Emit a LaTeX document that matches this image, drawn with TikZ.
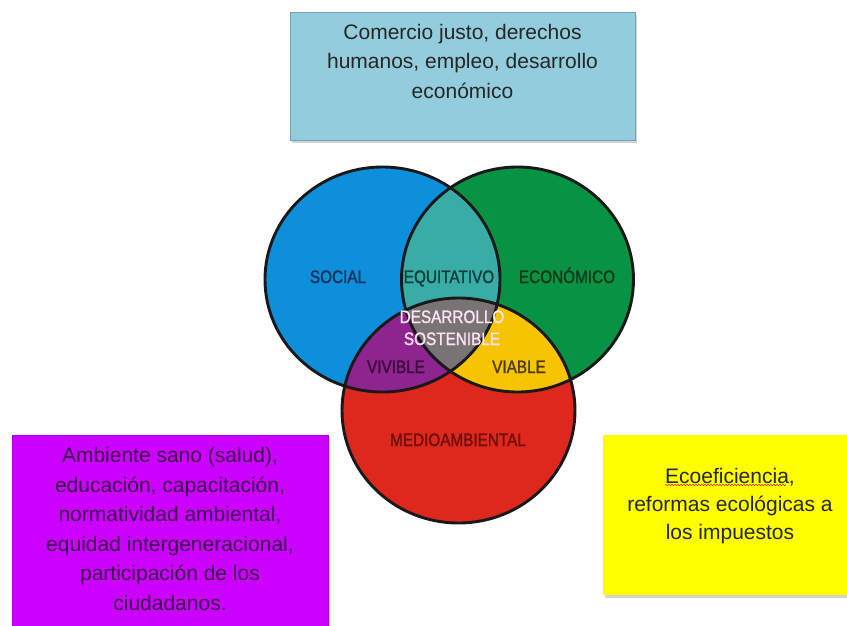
\documentclass[tikz,border=0pt]{standalone}
\usepackage{fontspec}
\setmainfont{Liberation Sans}
\newfontfamily\narrowfont[FakeStretch=0.85,FakeBold=1.3]{Liberation Sans}
\usetikzlibrary{shadows,decorations.pathmorphing}

\definecolor{socialblue}{RGB}{14,143,219}
\definecolor{econgreen}{RGB}{8,146,68}
\definecolor{envred}{RGB}{222,40,30}
\definecolor{equiteal}{RGB}{58,172,166}
\definecolor{viviblepurple}{RGB}{142,36,142}
\definecolor{viableyellow}{RGB}{246,196,0}
\definecolor{coregray}{RGB}{121,115,117}
\definecolor{aquabox}{RGB}{147,205,221}
\definecolor{aquaedge}{RGB}{112,165,184}
\definecolor{violetbox}{RGB}{204,0,255}
\definecolor{violetedge}{RGB}{170,0,215}
\definecolor{lemonbox}{RGB}{255,255,0}
\definecolor{spellred}{RGB}{215,40,40}

\def\socialpath{(382.5,279.5) ellipse [x radius=117.5pt, y radius=112.5pt]}
\def\econpath{(517.5,279.5) ellipse [x radius=116pt, y radius=112.5pt]}
\def\envpath{(458.5,410.5) ellipse [x radius=116.5pt, y radius=112.5pt]}

\tikzset{
  infobox/.style={rectangle, line width=0.8pt, inner sep=0pt,
    drop shadow={opacity=0.35, shadow xshift=1.5pt, shadow yshift=-2.5pt}},
  boxtext/.style={align=center, font=\fontsize{21}{29.5}\selectfont},
  venntext/.style={anchor=base, inner sep=0pt, font=\narrowfont\fontsize{18}{20}\selectfont},
  vennline/.style={line width=2.9pt, black!90},
  spellwave/.style={spellred, line width=0.6pt, decorate,
    decoration={snake, segment length=3pt, amplitude=0.7pt}}
}

\begin{document}
\begin{tikzpicture}[x=1pt,y=-1pt]
  %%%%% START %%%%%
  \useasboundingbox (0,0) rectangle (847,625);

  % the three boxes
  \node[infobox, fill=aquabox, draw=aquaedge, minimum width=345pt, minimum height=128pt] (econbox) at (462.5,76) {};
  \node[boxtext, text=black!85] (econtext) at (462.5,61) {Comercio justo, derechos\\humanos, empleo, desarrollo\\económico};

  \node[infobox, fill=violetbox, draw=violetedge, minimum width=316pt, minimum height=210pt] (socialbox) at (170,540) {};
  \node[boxtext, text={rgb,255:red,58;green,0;blue,74}] (socialtext) at (170,529) {Ambiente sano (salud),\\educación, capacitación,\\normatividad ambiental,\\equidad intergeneracional,\\participación de los\\ciudadanos.};

  \node[infobox, fill=lemonbox, minimum width=262pt, minimum height=160pt] (envbox) at (734,515) {};
  \node[boxtext, text=black!85, font=\fontsize{21}{28}\selectfont] (envtext) at (730,506) {Ecoeficiencia,\\reformas ecológicas a\\los impuestos};
  \draw[spellwave] (665,485) -- (786,485);

  % venn
  \fill[socialblue] \socialpath;
  \fill[econgreen] \econpath;
  \fill[envred] \envpath;
  \begin{scope}
    \clip \socialpath;
    \fill[equiteal] \econpath;
    \fill[viviblepurple] \envpath;
  \end{scope}
  \begin{scope}
    \clip \econpath;
    \fill[viableyellow] \envpath;
  \end{scope}
  \begin{scope}
    \clip \socialpath;
    \clip \econpath;
    \fill[coregray] \envpath;
  \end{scope}
  \draw[vennline] \socialpath;
  \draw[vennline] \econpath;
  \draw[vennline] \envpath;

  \node[venntext, text={rgb,255:red,10;green,48;blue,88}] (social) at (338,283) {SOCIAL};
  \node[venntext, text={rgb,255:red,10;green,62;blue,60}] (equitativo) at (449,283) {EQUITATIVO};
  \node[venntext, text={rgb,255:red,8;green,56;blue,26}] (economico) at (567,283) {ECONÓMICO};
  \node[venntext, text={rgb,255:red,252;green,228;blue,242}] (desarrollo) at (452,323) {DESARROLLO};
  \node[venntext, text={rgb,255:red,252;green,228;blue,242}] (sostenible) at (452,345) {SOSTENIBLE};
  \node[venntext, text={rgb,255:red,60;green,10;blue,60}] (vivible) at (396,373) {VIVIBLE};
  \node[venntext, text={rgb,255:red,78;green,58;blue,0}] (viable) at (519,373) {VIABLE};
  \node[venntext, text={rgb,255:red,108;green,16;blue,10}] (medioambiental) at (458,446) {MEDIOAMBIENTAL};

  %%%%% END %%%%%
\end{tikzpicture}
\end{document}
